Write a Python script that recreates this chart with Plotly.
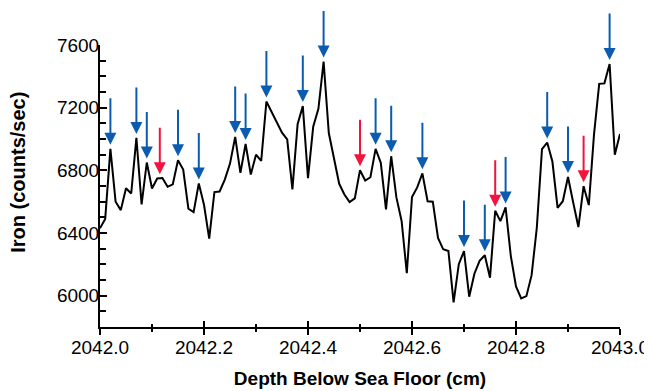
import numpy as np
import plotly.graph_objects as go

# Depth (cm) sampled every 0.01 cm from 2042.00 to 2043.00
depth = [round(2042.0 + i * 0.01, 2) for i in range(101)]
iron = [
    6430, 6490, 6937, 6600, 6546, 6686, 6652, 7007, 6582, 6850,
    6684, 6748, 6751, 6695, 6711, 6864, 6805, 6555, 6533, 6716,
    6580, 6364, 6661, 6665, 6741, 6843, 7013, 6784, 6968, 6773,
    6900, 6860, 7239, 7170, 7100, 7040, 6998, 6678, 7094, 7210,
    6750, 7078, 7193, 7494, 7038, 6873, 6714, 6646, 6597, 6621,
    6801, 6735, 6756, 6937, 6848, 6551, 6890, 6627, 6477, 6144,
    6630, 6691, 6781, 6603, 6600, 6369, 6296, 6285, 5957, 6201,
    6285, 5993, 6140, 6222, 6258, 6115, 6542, 6476, 6563, 6254,
    6059, 5983, 5997, 6131, 6433, 6935, 6977, 6856, 6561, 6603,
    6757, 6595, 6438, 6699, 6578, 7028, 7352, 7355, 7478, 6900,
    7032,
]

# Marked depths (arrows)
blue_marks = [2042.02, 2042.07, 2042.09, 2042.15, 2042.19, 2042.26, 2042.28,
              2042.32, 2042.39, 2042.43, 2042.53, 2042.56, 2042.62, 2042.70,
              2042.74, 2042.78, 2042.86, 2042.90, 2042.98]
red_marks = [2042.115, 2042.50, 2042.76, 2042.93]

BLUE = "#0b5cb0"
RED = "#f2143c"
FONT = "Liberation Sans, Arial, sans-serif"

fig = go.Figure()
fig.add_trace(go.Scatter(x=depth, y=iron, mode="lines",
                         line=dict(color="black", width=2),
                         showlegend=False, hoverinfo="skip"))
# invisible trace on overlay axis (for crossing ticks)
fig.add_trace(go.Scatter(x=[depth[0]], y=[iron[0]], xaxis="x2", mode="markers",
                         marker=dict(opacity=0), showlegend=False, hoverinfo="skip"))

annotations = []
for marks, col in ((blue_marks, BLUE), (red_marks, RED)):
    for d in marks:
        yv = float(np.interp(d, depth, iron))
        annotations.append(dict(x=d, y=yv, xref="x", yref="y", text="",
                                showarrow=True, ax=0, ay=-52, arrowhead=2,
                                arrowsize=1.2, arrowwidth=2, arrowcolor=col,
                                standoff=4))

# y-axis title (placed as an annotation to match position)
annotations.append(dict(text="<b>Iron (counts/sec)</b>", xref="paper", yref="paper",
                        x=-0.158, y=0.55, xanchor="center", yanchor="middle",
                        textangle=-90, showarrow=False, font=dict(size=20)))

# page body adds an 8px offset, so the figure is 8px smaller than the window
fig.update_layout(
    width=644, height=383,
    margin=dict(l=92, r=32, t=37, b=64, autoexpand=False),
    plot_bgcolor="white", paper_bgcolor="white",
    font=dict(family=FONT, size=19, color="black"),
    showlegend=False,
    annotations=annotations,
    xaxis=dict(range=[2042.0, 2043.0], dtick=0.2, tick0=2042.0, tickformat=".1f",
               automargin=False, ticklabelstandoff=-4,
               showgrid=False, zeroline=False, showline=True, linecolor="black",
               linewidth=2, ticks="outside", ticklen=6, tickwidth=1.5, tickcolor="black",
               minor=dict(dtick=0.1, ticks="outside", ticklen=3, tickwidth=1.5,
                          tickcolor="black", showgrid=False),
               title=dict(text="<b>Depth Below Sea Floor (cm)</b>", font=dict(size=19),
                          standoff=15)),
    xaxis2=dict(range=[2042.0, 2043.0], overlaying="x", anchor="y", side="bottom",
                automargin=False,
                dtick=0.2, tick0=2042.0, showticklabels=False, showgrid=False,
                zeroline=False, showline=False, ticks="inside", ticklen=6,
                tickwidth=1.5, tickcolor="black",
                minor=dict(dtick=0.1, ticks="inside", ticklen=3, tickwidth=1.5,
                           tickcolor="black", showgrid=False)),
    yaxis=dict(range=[5800, 7600], dtick=400, tick0=6000, automargin=False,
               ticklabelstandoff=-5,
               showgrid=False, zeroline=False, showline=True, linecolor="black",
               linewidth=2, ticks="inside", ticklen=7, tickwidth=1.5, tickcolor="black",
               minor=dict(dtick=100, ticks="inside", ticklen=6, tickwidth=1.5,
                          tickcolor="black", showgrid=False)),
)

fig.write_html("out.html")
